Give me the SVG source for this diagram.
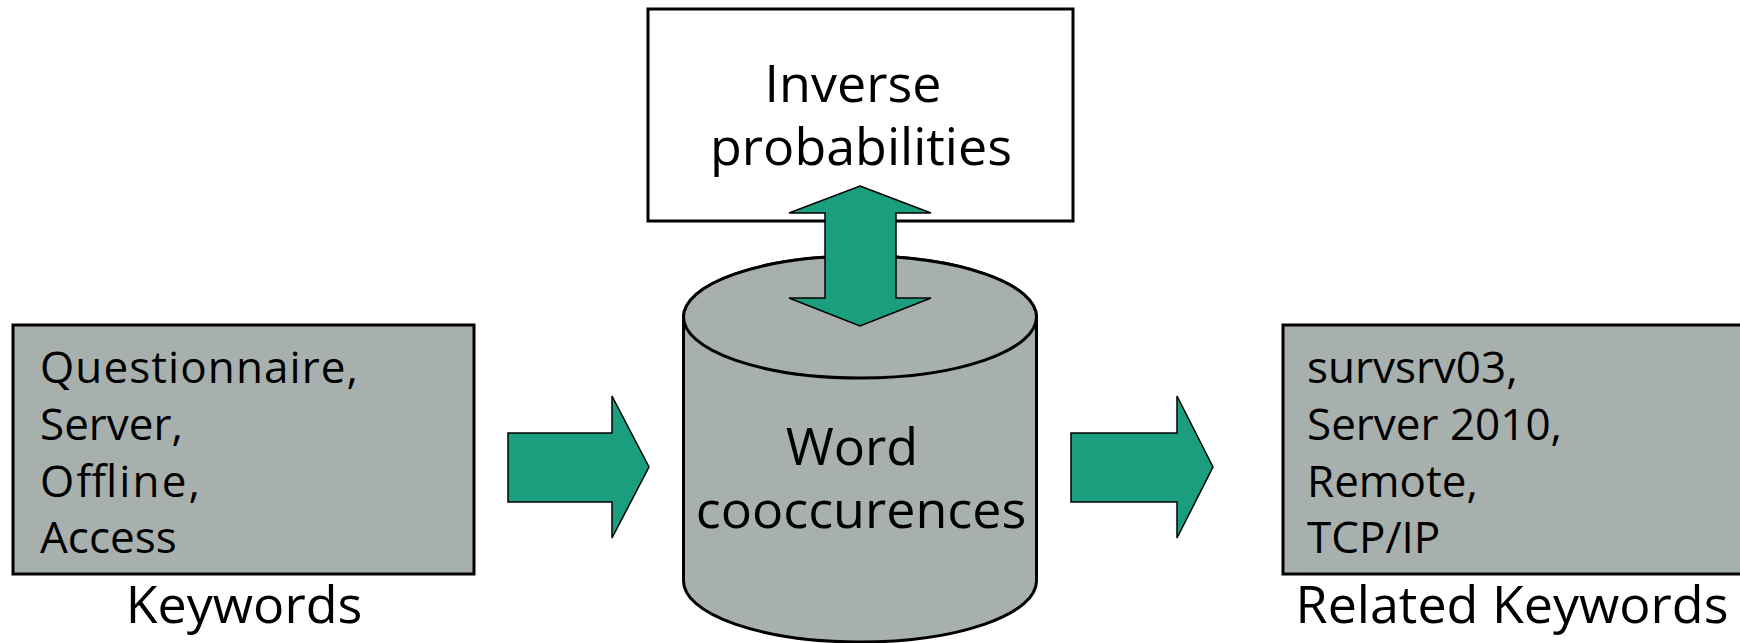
<svg xmlns="http://www.w3.org/2000/svg" width="1740" height="643" viewBox="0 0 1740 643">
<style>
.box{fill:#a8b0ae;stroke:#000;stroke-width:3}
.wbox{fill:#fff;stroke:#000;stroke-width:3}
.arr{fill:#1a9e7d;stroke:#000;stroke-width:1.5;stroke-linejoin:miter}
.t{font-family:"Open Sans","Noto Sans",sans-serif;fill:#000}
.s44{font-size:44px}
.s52{font-size:52px}
</style>
<rect width="1740" height="643" fill="#fff"/>
<g id="keywords">
<rect class="box" x="13" y="325" width="461" height="249"/>
<text class="t s44" x="40" y="383" textLength="318">Questionnaire,</text>
<text class="t s44" x="40" y="440">Server,</text>
<text class="t s44" x="40" y="497" textLength="160">Offline,</text>
<text class="t s44" x="40" y="553">Access</text>
<text class="t s52" x="244" y="623" text-anchor="middle">Keywords</text>
</g>
<g id="inverse-probabilities">
<rect class="wbox" x="648" y="9" width="425" height="212"/>
<text class="t s52" x="853" y="102" text-anchor="middle">Inverse</text>
<text class="t s52" x="861" y="165" text-anchor="middle">probabilities</text>
</g>
<g id="word-cooccurences">
<path class="box" d="M683.5,317 L683.5,581 A176.5,61 0 0 0 1036.5,581 L1036.5,317 A176.5,61 0 0 0 683.5,317 Z"/>
<ellipse class="box" cx="860" cy="317" rx="176.5" ry="61"/>
<text class="t s52" x="852" y="465" text-anchor="middle">Word</text>
<text class="t s52" x="861" y="528" text-anchor="middle">cooccurences</text>
</g>
<g id="related-keywords">
<rect class="box" x="1283" y="325" width="500" height="249"/>
<text class="t s44" x="1307" y="383">survsrv03,</text>
<text class="t s44" x="1307" y="440">Server 2010,</text>
<text class="t s44" x="1307" y="497">Remote,</text>
<text class="t s44" x="1307" y="553">TCP/IP</text>
<text class="t s52" x="1512" y="623" text-anchor="middle">Related Keywords</text>
</g>
<g id="connectors">
<polygon class="arr" points="508,433 612,433 612,396 649,467 612,538 612,502 508,502"/>
<polygon class="arr" points="1071,433 1177,433 1177,396 1213,467 1177,538 1177,502 1071,502"/>
<polygon class="arr" points="860,186 931,213 896,213 896,298 931,298 860,326 789,298 825,298 825,213 789,213"/>
</g>
</svg>
